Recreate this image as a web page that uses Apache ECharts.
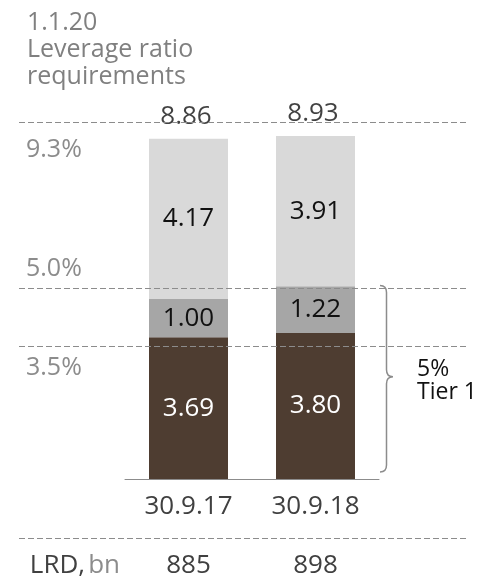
<!DOCTYPE html>
<html>
<head>
<meta charset="utf-8">
<script src="https://cdn.jsdelivr.net/npm/echarts@6/dist/echarts.min.js"></script>
<style>
  html, body { margin: 0; padding: 0; background: #fff; }
  #chart { width: 479px; height: 579px; }
</style>
</head>
<body>
<div id="chart"></div>
<script>
// Leverage ratio requirements, CHF bn of leverage ratio denominator
const categories = ['30.9.17', '30.9.18'];
const commonEquity = [3.69, 3.80];     // dark segment
const additionalTier1 = [1.00, 1.22];  // mid segment
const goingConcern = [4.17, 3.91];     // light segment
const lrdValues = ['885', '898'];      // LRD, bn
const thresholds = [9.3, 5.0, 3.5];    // requirement lines
const thresholdLabels = ['9.3%', '5.0%', '3.5%'];
const tier1Range = [0, 5.0];           // range covered by the "5% Tier 1" brace

const totals = categories.map((_, i) =>
  +(commonEquity[i] + additionalTier1[i] + goingConcern[i]).toFixed(2));

const FONT = '"Open Sans", "Noto Sans", sans-serif';
const Y_MAX = 10;
const GRID_TOP = 95, GRID_BOTTOM = 98;

const chart = echarts.init(document.getElementById('chart'), null, { renderer: 'canvas' });

// label offsets for each requirement line: [horizontal, vertical], position
const lineLabelPos = ['insideStartBottom', 'insideStartTop', 'insideStartBottom'];
const lineLabelDist = [[7, 15], [7, 7], [7, 9]];

const option = {
  animation: false,
  textStyle: { fontFamily: FONT },
  title: {
    text: '1.1.20\nLeverage ratio\nrequirements',
    left: 27, top: 9, padding: 0,
    textStyle: { fontFamily: FONT, fontSize: 25, lineHeight: 27, fontWeight: 'normal', color: '#808080' }
  },
  grid: [
    { left: 125, right: 100, top: GRID_TOP, bottom: GRID_BOTTOM },  // bars
    { left: 19, right: 11, top: GRID_TOP, bottom: GRID_BOTTOM }     // requirement lines
  ],
  xAxis: [
    {
      type: 'category', gridIndex: 0, data: categories,
      axisLine: { lineStyle: { color: '#8c8c8c', width: 1 } },
      axisTick: { show: false },
      axisLabel: { margin: 15, fontSize: 26, color: '#404040', fontFamily: FONT }
    },
    {
      type: 'category', gridIndex: 0, data: lrdValues, position: 'bottom',
      axisLine: { show: false }, axisTick: { show: false },
      axisLabel: { margin: 74, fontSize: 26, color: '#404040', fontFamily: FONT },
      name: '{a|LRD,} {b|bn}',
      nameLocation: 'start', nameGap: 5,
      nameTextStyle: {
        align: 'right', verticalAlign: 'middle', padding: [174, 0, 0, 0],
        rich: {
          a: { fontSize: 26, color: '#404040', fontFamily: FONT },
          b: { fontSize: 26, color: '#8c8c8c', fontFamily: FONT }
        }
      }
    },
    { type: 'value', gridIndex: 1, min: 0, max: 1, show: false }
  ],
  yAxis: [
    { type: 'value', gridIndex: 0, min: 0, max: Y_MAX, show: false },
    { type: 'value', gridIndex: 1, min: 0, max: Y_MAX, show: false }
  ],
  graphic: [
    {
      type: 'line', z: 0,
      shape: { x1: 19, y1: 538.5, x2: 468, y2: 538.5 },
      style: { stroke: '#8c8c8c', lineWidth: 1, lineDash: [6, 3] }
    }
  ],
  series: [
    {
      name: 'requirements', type: 'line', xAxisIndex: 2, yAxisIndex: 1,
      data: [], z: 1, silent: true,
      markLine: {
        silent: true, symbol: 'none', animation: false,
        lineStyle: { color: '#8c8c8c', width: 1, type: [6, 3] },
        data: thresholds.map((v, i) => ({
          yAxis: v,
          label: {
            show: true, formatter: thresholdLabels[i],
            position: lineLabelPos[i], distance: lineLabelDist[i],
            fontSize: 25, color: '#8c8c8c', fontFamily: FONT
          }
        }))
      }
    },
    {
      name: 'CET1', type: 'bar', stack: 'lr', xAxisIndex: 0, yAxisIndex: 0,
      data: commonEquity, barWidth: 79, z: 3,
      itemStyle: { color: '#4e3d31' },
      label: { show: true, position: 'inside', fontSize: 26, color: '#ffffff', fontFamily: FONT,
               formatter: p => p.value.toFixed(2) }
    },
    {
      name: 'AT1', type: 'bar', stack: 'lr', xAxisIndex: 0, yAxisIndex: 0,
      data: additionalTier1, barWidth: 79, z: 3,
      itemStyle: { color: '#a6a6a6' },
      label: { show: true, position: 'inside', fontSize: 26, color: '#111111', fontFamily: FONT,
               formatter: p => p.value.toFixed(2) }
    },
    {
      name: 'Going concern', type: 'bar', stack: 'lr', xAxisIndex: 0, yAxisIndex: 0,
      data: goingConcern, barWidth: 79, z: 3,
      itemStyle: { color: '#d9d9d9' },
      label: { show: true, position: 'inside', fontSize: 26, color: '#111111', fontFamily: FONT,
               formatter: p => p.value.toFixed(2) }
    },
    {
      name: 'Total', type: 'scatter', xAxisIndex: 0, yAxisIndex: 0,
      data: totals, symbolSize: 0, z: 4, silent: true,
      label: {
        show: true, position: 'top', distance: 9,
        fontSize: 26, color: '#111111', fontFamily: FONT,
        backgroundColor: '#ffffff', padding: [0, 6, 0, 1],
        formatter: p => p.value.toFixed(2)
      }
    },
    {
      name: 'Tier 1 brace', type: 'custom', xAxisIndex: 0, yAxisIndex: 0,
      data: [[1, tier1Range[0], tier1Range[1]]], z: 5, silent: true, clip: false,
      renderItem: (params, api) => {
        const top = api.coord([api.value(0), api.value(2)]);
        const bot = api.coord([api.value(0), api.value(1)]);
        const band = api.size([1, 0])[0];
        const x0 = top[0] + band / 2 + 1;
        const x1 = x0 + 6.5, x2 = x0 + 13;
        const yT = top[1] - 1.5, yB = bot[1] - 7;
        const yM = (yT + yB) / 2 - 2;
        const r = 7;
        const d = `M${x0},${yT} Q${x1},${yT} ${x1},${yT + r} L${x1},${yM - r} ` +
                  `Q${x1},${yM} ${x2},${yM} Q${x1},${yM} ${x1},${yM + r} ` +
                  `L${x1},${yB - r} Q${x1},${yB} ${x0},${yB}`;
        return {
          type: 'group',
          children: [
            { type: 'path', shape: { pathData: d },
              style: { stroke: '#8c8c8c', lineWidth: 1.5, fill: 'none' } },
            { type: 'text', x: x2 + 24, y: yM + 4,
              style: { text: '5%\nTier 1', fill: '#111111', fontSize: 23, lineHeight: 23,
                       fontFamily: FONT, verticalAlign: 'middle', align: 'left' } }
          ]
        };
      }
    }
  ]
};

chart.setOption(option);
</script>
</body>
</html>
